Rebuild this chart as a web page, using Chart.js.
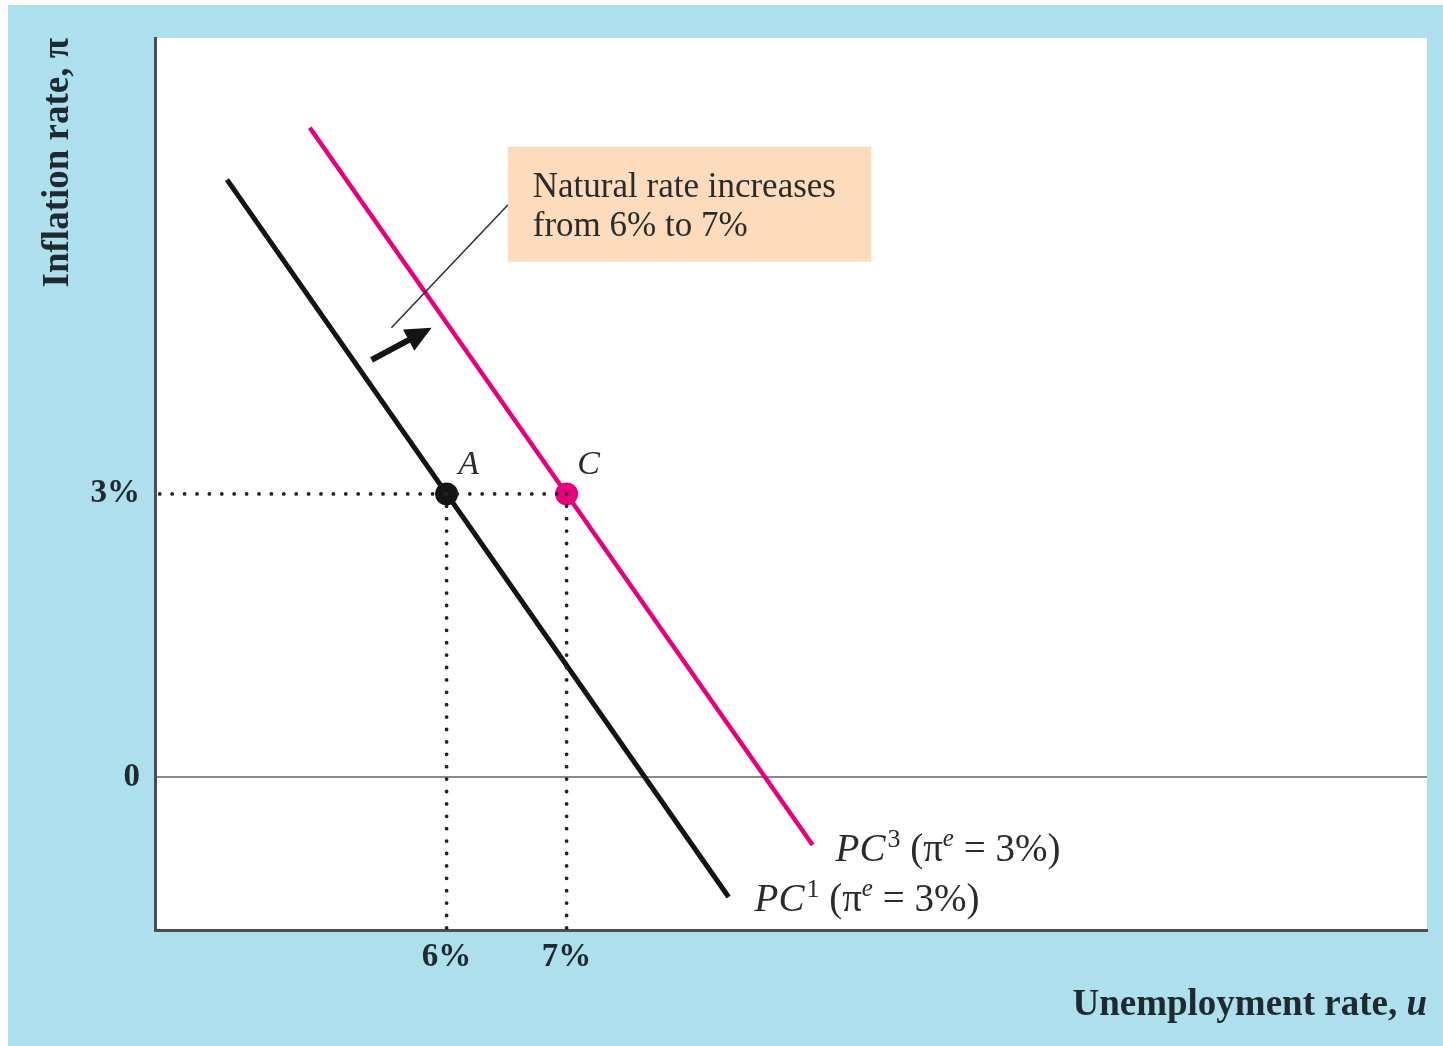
<!DOCTYPE html>
<html>
<head>
<meta charset="utf-8">
<script src="https://cdn.jsdelivr.net/npm/chart.js@4.4.1/dist/chart.umd.min.js"></script>
<style>
  html, body { margin: 0; padding: 0; background: #ffffff; }
  #wrap { position: absolute; left: 0; top: 0; width: 1443px; height: 1046px; }
</style>
</head>
<body>
<div id="wrap"><canvas id="pc-chart" width="1443" height="1046"></canvas></div>
<script>
// axis ranges (unemployment %, inflation %)
const uRange = [3.57, 14.17]
const piRange = [-1.62, 7.83]

// tick values and their labels
const uTicks = [6, 7]
const uTickLabels = ['6%', '7%']
const piTicks = [0, 3]
const piTickLabels = ['0', '3%']

// Phillips curves: endpoints
const pc1U = [4.17, 8.35]
const pc1Pi = [6.33, -1.27]
const pc3U = [4.86, 9.05]
const pc3Pi = [6.88, -0.72]

// equilibrium points A and C
const pointNames = ['A', 'C']
const pointU = [6, 7]
const pointPi = [3, 3]

// shift arrow and leader line to the note
const arrowU = [5.375, 5.875]
const arrowPi = [4.42, 4.76]
const leaderU = [5.54, 6.51]
const leaderPi = [4.76, 6.06]

// note box corners (data space) and its text
const noteU = [6.51, 9.54]
const notePi = [6.68, 5.46]
const noteLines = ['Natural rate increases', 'from 6% to 7%']

const BLUE = '#aedfec'
const PINK = '#e6007e'
const INK = '#141414'
const TEXT = '#1e2a30'
const SERIF = '"Liberation Serif", "DejaVu Serif", serif'

function pts(xs, ys) {
    return xs.map((x, i) => ({ x: x, y: ys[i] }))
}

/*
** background panel and the note box
*/
const backdrop = {
    id: 'backdrop',
    beforeDraw(chart) {
        const ctx = chart.ctx
        ctx.save()
        ctx.fillStyle = BLUE
        ctx.fillRect(8, 5, chart.width - 8, chart.height - 5)
        const a = chart.chartArea
        ctx.fillStyle = '#ffffff'
        ctx.fillRect(a.left, a.top, a.right - a.left, a.bottom - a.top)
        ctx.restore()
    },
    beforeDatasetsDraw(chart) {
        const { ctx, scales } = chart
        const x0 = scales.x.getPixelForValue(noteU[0])
        const x1 = scales.x.getPixelForValue(noteU[1])
        const y0 = scales.y.getPixelForValue(notePi[0])
        const y1 = scales.y.getPixelForValue(notePi[1])
        ctx.save()
        ctx.fillStyle = '#fcdcbd'
        ctx.fillRect(x0, y0, x1 - x0, y1 - y0)
        ctx.fillStyle = '#2b2b2b'
        ctx.font = '35px ' + SERIF
        ctx.textBaseline = 'middle'
        noteLines.forEach((line, i) => ctx.fillText(line, x0 + 25, y0 + 41 + i * 39))
        ctx.restore()
    }
}

/*
** arrow, point letters, curve labels and the x-axis title
*/
const marks = {
    id: 'marks',
    afterDatasetsDraw(chart) {
        const { ctx, scales } = chart
        const px = u => scales.x.getPixelForValue(u)
        const py = p => scales.y.getPixelForValue(p)
        ctx.save()

        // shift arrow
        const ax0 = px(arrowU[0]), ay0 = py(arrowPi[0])
        const ax1 = px(arrowU[1]), ay1 = py(arrowPi[1])
        const ang = Math.atan2(ay1 - ay0, ax1 - ax0)
        const headLen = 26, headW = 12
        const bx = ax1 - headLen * Math.cos(ang), by = ay1 - headLen * Math.sin(ang)
        ctx.strokeStyle = INK
        ctx.lineWidth = 6
        ctx.beginPath()
        ctx.moveTo(ax0, ay0)
        ctx.lineTo(bx + 3 * Math.cos(ang), by + 3 * Math.sin(ang))
        ctx.stroke()
        ctx.fillStyle = INK
        ctx.beginPath()
        ctx.moveTo(ax1, ay1)
        ctx.lineTo(bx + headW * Math.sin(ang), by - headW * Math.cos(ang))
        ctx.lineTo(bx - headW * Math.sin(ang), by + headW * Math.cos(ang))
        ctx.closePath()
        ctx.fill()

        // point letters
        ctx.fillStyle = '#2b2b2b'
        ctx.font = 'italic 34px ' + SERIF
        ctx.textAlign = 'center'
        ctx.textBaseline = 'middle'
        pointNames.forEach((n, i) => ctx.fillText(n, px(pointU[i]) + 22, py(pointPi[i]) - 29))

        // curve labels
        ctx.textAlign = 'left'
        ctx.textBaseline = 'alphabetic'
        const curveLabel = (x, y, sup) => {
            const parts = [
                ['italic 39px ' + SERIF, 'PC', 0],
                ['26px ' + SERIF, sup, -14],
                ['39px ' + SERIF, ' (\u03c0', 0],
                ['italic 25px ' + SERIF, 'e', -15],
                ['39px ' + SERIF, ' = 3%)', 0]
            ]
            parts.forEach(p => {
                ctx.font = p[0]
                ctx.fillText(p[1], x, y + p[2])
                x += ctx.measureText(p[1]).width + (p[1] === 'PC' ? 2 : 0)
            })
        }
        curveLabel(px(pc3U[1]) + 23, py(pc3Pi[1]) + 16, '3')
        curveLabel(px(pc1U[1]) + 26, py(pc1Pi[1]) + 14, '1')

        // x-axis title, with an italic u
        ctx.fillStyle = TEXT
        ctx.textBaseline = 'middle'
        ctx.textAlign = 'right'
        ctx.font = 'bold italic 37px ' + SERIF
        const right = chart.chartArea.right
        ctx.fillText('u', right, 1005)
        const uw = ctx.measureText('u').width
        ctx.font = 'bold 37px ' + SERIF
        ctx.fillText('Unemployment rate, ', right - uw, 1005)
        ctx.restore()
    }
}

const dotted = {
    borderColor: '#222',
    borderWidth: 3.8,
    borderDash: [0, 12.4],
    borderCapStyle: 'round',
    pointRadius: 0,
    showLine: true
}

new Chart(document.querySelector('#pc-chart').getContext('2d'), {
    type: 'scatter',
    plugins: [backdrop, marks],
    data: {
        datasets: [
            Object.assign({ data: [{ x: uRange[0] + 0.04, y: pointPi[0] }, { x: pointU[1], y: pointPi[1] }] }, dotted),
            Object.assign({ data: [{ x: pointU[0], y: pointPi[0] }, { x: pointU[0], y: piRange[0] }] }, dotted),
            Object.assign({ data: [{ x: pointU[1], y: pointPi[1] }, { x: pointU[1], y: piRange[0] }] }, dotted),
            {
                label: 'leader',
                data: pts(leaderU, leaderPi),
                showLine: true,
                borderColor: '#333',
                borderWidth: 1.6,
                pointRadius: 0
            },
            {
                label: 'PC1',
                data: pts(pc1U, pc1Pi),
                showLine: true,
                borderColor: INK,
                borderWidth: 5,
                pointRadius: 0
            },
            {
                label: 'PC3',
                data: pts(pc3U, pc3Pi),
                showLine: true,
                borderColor: PINK,
                borderWidth: 4.5,
                pointRadius: 0
            },
            {
                label: 'points',
                data: pts(pointU, pointPi),
                pointRadius: 11.5,
                pointBackgroundColor: [INK, PINK],
                pointBorderWidth: 0
            }
        ]
    },
    options: {
        responsive: false,
        animation: false,
        layout: { padding: { top: 38, right: 16, left: 0, bottom: 0 } },
        plugins: { legend: { display: false }, tooltip: { enabled: false } },
        scales: {
            x: {
                type: 'linear',
                min: uRange[0],
                max: uRange[1],
                afterFit: s => { s.height = 116 },
                afterBuildTicks: s => { s.ticks = uTicks.map(v => ({ value: v })) },
                grid: { display: false, drawTicks: false },
                border: { display: true, color: '#4a4f52', width: 3 },
                ticks: {
                    autoSkip: false,
                    maxRotation: 0,
                    padding: 8,
                    color: TEXT,
                    font: { family: SERIF, size: 33, weight: 'bold' },
                    callback: v => uTickLabels[uTicks.indexOf(v)]
                },
                title: { display: false }
            },
            y: {
                type: 'linear',
                min: piRange[0],
                max: piRange[1],
                afterFit: s => { s.width = 155 },
                afterBuildTicks: s => { s.ticks = piTicks.map(v => ({ value: v })) },
                grid: {
                    drawTicks: false,
                    lineWidth: 2,
                    color: c => (c.tick && c.tick.value === 0 ? '#8a8a8a' : 'rgba(0,0,0,0)')
                },
                border: { display: true, color: '#4a4f52', width: 3 },
                ticks: {
                    autoSkip: false,
                    padding: 15,
                    color: TEXT,
                    font: { family: SERIF, size: 33, weight: 'bold' },
                    callback: v => piTickLabels[piTicks.indexOf(v)]
                },
                title: {
                    display: true,
                    text: 'Inflation rate, \u03c0',
                    align: 'end',
                    color: TEXT,
                    font: { family: SERIF, size: 37, weight: 'bold' },
                    padding: { top: 36 }
                }
            }
        }
    }
});
</script>
</body>
</html>
